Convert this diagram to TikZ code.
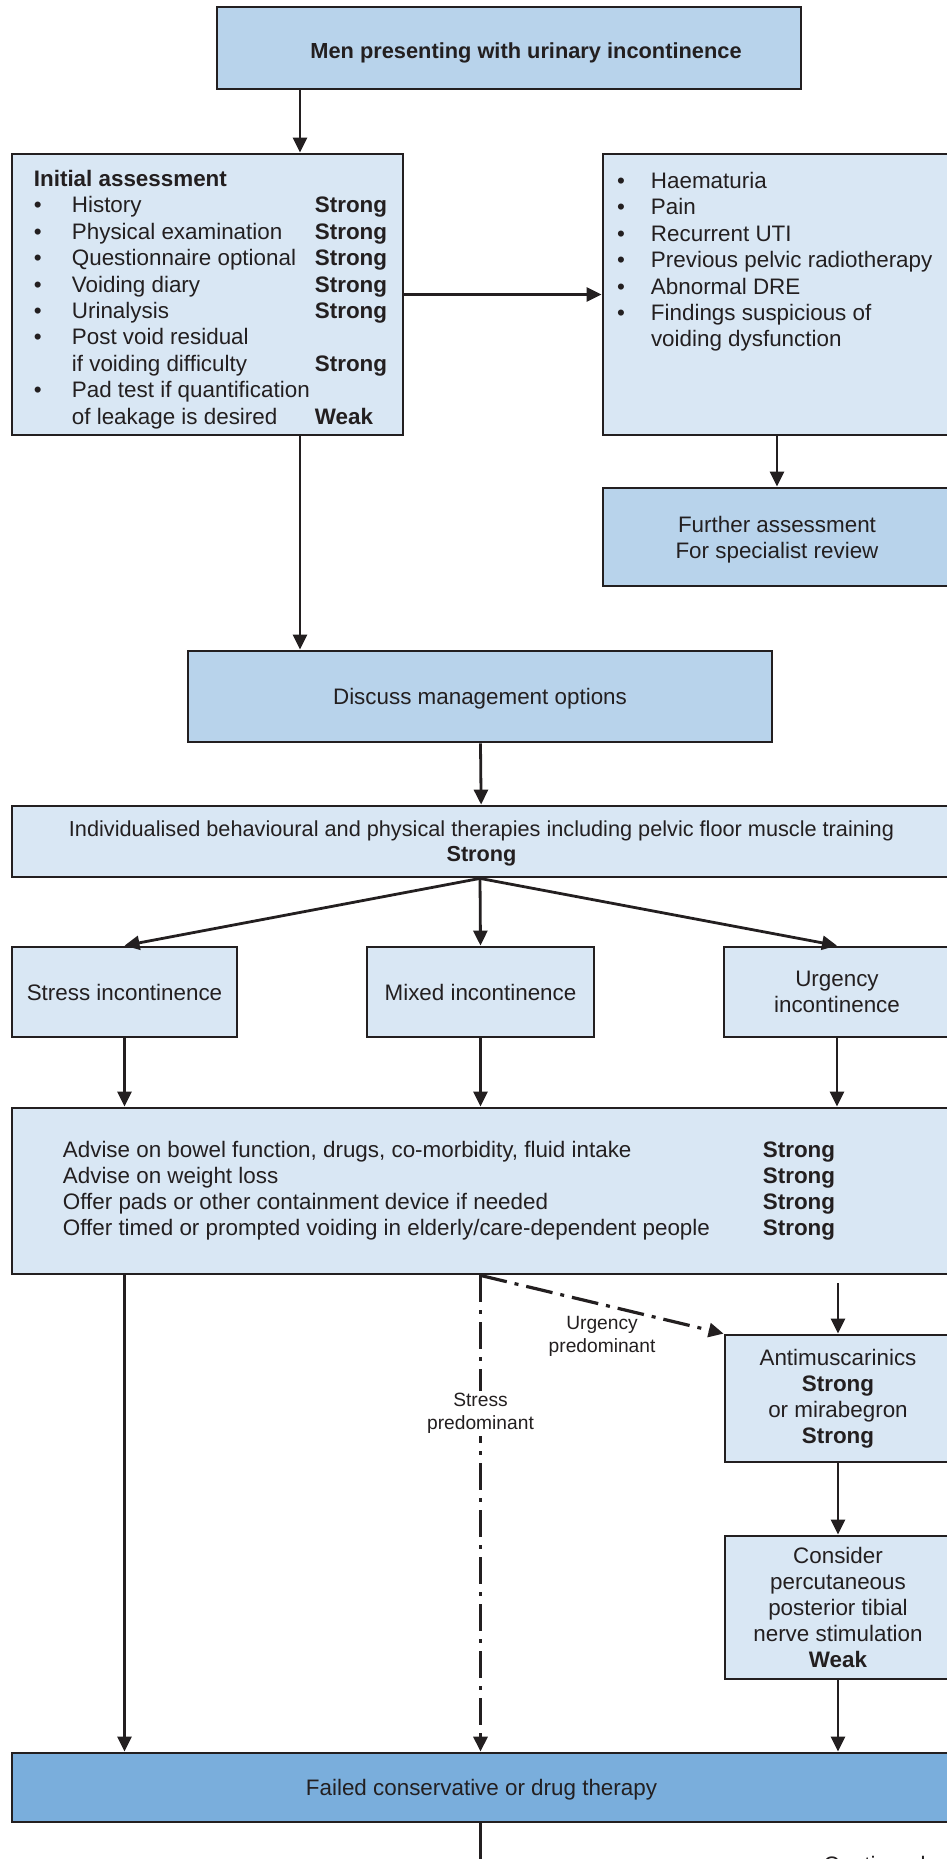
\documentclass[tikz,border=0pt]{standalone}
\usepackage{fontspec}
\setmainfont{Liberation Sans}
\usepackage{tikz}
\usetikzlibrary{arrows.meta, positioning, calc}
\definecolor{flowline}{RGB}{35, 31, 32}
\definecolor{flowmid}{RGB}{184, 211, 235}
\definecolor{flowlight}{RGB}{217, 231, 244}
\definecolor{flowdark}{RGB}{122, 174, 220}

\begin{document}
\begin{tikzpicture}[x=0.5pt, y=-0.5pt, >={Triangle[length=7.5pt, width=7pt]},
  box/.style={draw=flowline, line width=1.4pt, inner sep=0pt, align=center, text=flowline, font=\fontsize{11.2}{13}\selectfont},
  lightbox/.style={box, fill=flowlight},
  midbox/.style={box, fill=flowmid, text depth=0pt},
  darkbox/.style={box, fill=flowdark, text depth=0pt},
  listfont/.style={font=\fontsize{11.2}{13.2}\selectfont},
  link/.style={->, line width=1.4pt, draw=flowline},
  dashlink/.style={link, line width=1.6pt, dash pattern=on 13.5pt off 4pt on 2pt off 4pt},
  note/.style={text=flowline, font=\fontsize{9.6}{11.5}\selectfont, align=center, inner sep=1pt}]

  \useasboundingbox (0,0) rectangle (947,1859);
  \coordinate (spine) at (300,0);

  \node[midbox, minimum width=292pt, minimum height=41pt, text height=10.7pt, font=\fontsize{10.9}{13}\selectfont] (top) at (509,48) {\hspace*{17pt}\textbf{Men presenting with urinary incontinence}};

  \node[lightbox, listfont, minimum width=195.5pt, minimum height=140.5pt] (init) at (207.5,294.5) {%
    \begin{tabular}{@{\hspace{3pt}}p{19pt}@{}p{121.5pt}@{}l@{}}
      \noalign{\vskip 5.5pt}
      \multicolumn{3}{@{\hspace{3pt}}l@{}}{\textbf{Initial assessment}}\\
      \textbullet & History & \textbf{Strong}\\
      \textbullet & Physical examination & \textbf{Strong}\\
      \textbullet & Questionnaire optional & \textbf{Strong}\\
      \textbullet & Voiding diary & \textbf{Strong}\\
      \textbullet & Urinalysis & \textbf{Strong}\\
      \textbullet & Post void residual & \\
                  & if voiding difficulty & \textbf{Strong}\\
      \textbullet & Pad test if quantification & \\
                  & of leakage is desired & \textbf{Weak}
    \end{tabular}};

  \node[lightbox, listfont, minimum width=174pt, minimum height=140.5pt] (flags) at (777,294.5) {%
    \begin{minipage}[c][140.5pt][t]{160pt}
      \vspace*{8pt}\noindent
      \begin{tabular}{@{}p{17pt}@{}l@{}}
        \textbullet & Haematuria\\
        \textbullet & Pain\\
        \textbullet & Recurrent UTI\\
        \textbullet & Previous pelvic radiotherapy\\
        \textbullet & Abnormal DRE\\
        \textbullet & Findings suspicious of\\
                    & voiding dysfunction
      \end{tabular}
    \end{minipage}};

  \node[midbox, minimum width=174pt, minimum height=49pt] (further) at (777,537) {Further assessment\\For specialist review};
  \node[midbox, minimum width=292pt, minimum height=45.5pt] (discuss) at (480,696.5) {Discuss management options};
  \node[lightbox, text depth=0pt, font=\fontsize{10.85}{12.5}\selectfont, minimum width=469.5pt, minimum height=35.5pt] (therapy) at (481.5,841.5) {Individualised behavioural and physical therapies including pelvic floor muscle training\\\textbf{Strong}};

  \node[lightbox, minimum width=112.5pt, minimum height=45pt] (stress) at (124.5,992) {Stress incontinence};
  \node[lightbox, minimum width=113.5pt, minimum height=45pt] (mixed) at (480.5,992) {Mixed incontinence};
  \node[lightbox, minimum width=113pt, minimum height=45pt] (urgency) at (837,992) {Urgency\\incontinence};

  \node[lightbox, minimum width=469.5pt, minimum height=83pt] (advise) at (481.5,1191) {%
    \begin{tabular}{@{}p{350pt}@{}l@{\hspace{32.5pt}}}
      Advise on bowel function, drugs, co-morbidity, fluid intake & \textbf{Strong}\\
      Advise on weight loss & \textbf{Strong}\\
      Offer pads or other containment device if needed & \textbf{Strong}\\
      Offer timed or prompted voiding in elderly/care-dependent people & \textbf{Strong}
    \end{tabular}};

  \node[lightbox, minimum width=113pt, minimum height=63.5pt] (antim) at (838,1398.5) {Antimuscarinics\\\textbf{Strong}\\or mirabegron\\\textbf{Strong}};
  \node[lightbox, minimum width=113pt, minimum height=71.5pt] (ptns) at (838,1607.5) {Consider\\percutaneous\\posterior tibial\\nerve stimulation\\\textbf{Weak}};
  \node[darkbox, minimum width=469.5pt, minimum height=34.5pt] (failed) at (481.5,1787.5) {Failed conservative or drug therapy};
  \node[anchor=north west, inner sep=0pt, text=flowline, font=\fontsize{11.2}{13}\selectfont] (cont) at (823,1856) {Continued};

  \coordinate (fork) at (therapy.south -| discuss.south);
  \coordinate (ugap) at ($(antim.north |- advise.south)+(0,8)$);

  \draw[link] (top.south -| spine) -- (init.north -| spine);
  \draw[link] (init) -- (flags);
  \draw[link] (flags) -- (further);
  \draw[link] (init.south -| spine) -- (discuss.north -| spine);
  \draw[link] (discuss) -- (therapy);
  \draw[link] (fork) -- (stress.north);
  \draw[link] (fork) -- (mixed.north);
  \draw[link] (fork) -- (urgency.north);
  \draw[link] (stress) -- (stress.south |- advise.north);
  \draw[link] (mixed) -- (mixed.south |- advise.north);
  \draw[link] (urgency) -- (urgency.south |- advise.north);
  \draw[link] (advise.south -| stress.south) -- (stress.south |- failed.north);
  \draw[dashlink] (advise.south -| mixed.south) -- node[note, fill=white, pos=0.29] (stressnote) {Stress\\predominant} (mixed.south |- failed.north);
  \draw[dashlink] (advise.south -| mixed.south) -- node[note, pos=0.5, below=4pt] (urgencynote) {Urgency\\predominant} (antim.north west);
  \draw[link] (ugap) -- (antim);
  \draw[link] (antim) -- (ptns);
  \draw[link] (ptns) -- (ptns.south |- failed.north);
  \draw[line width=1.4pt, draw=flowline] (failed.south -| mixed.south) -- ++(0,60);
\end{tikzpicture}
\end{document}
